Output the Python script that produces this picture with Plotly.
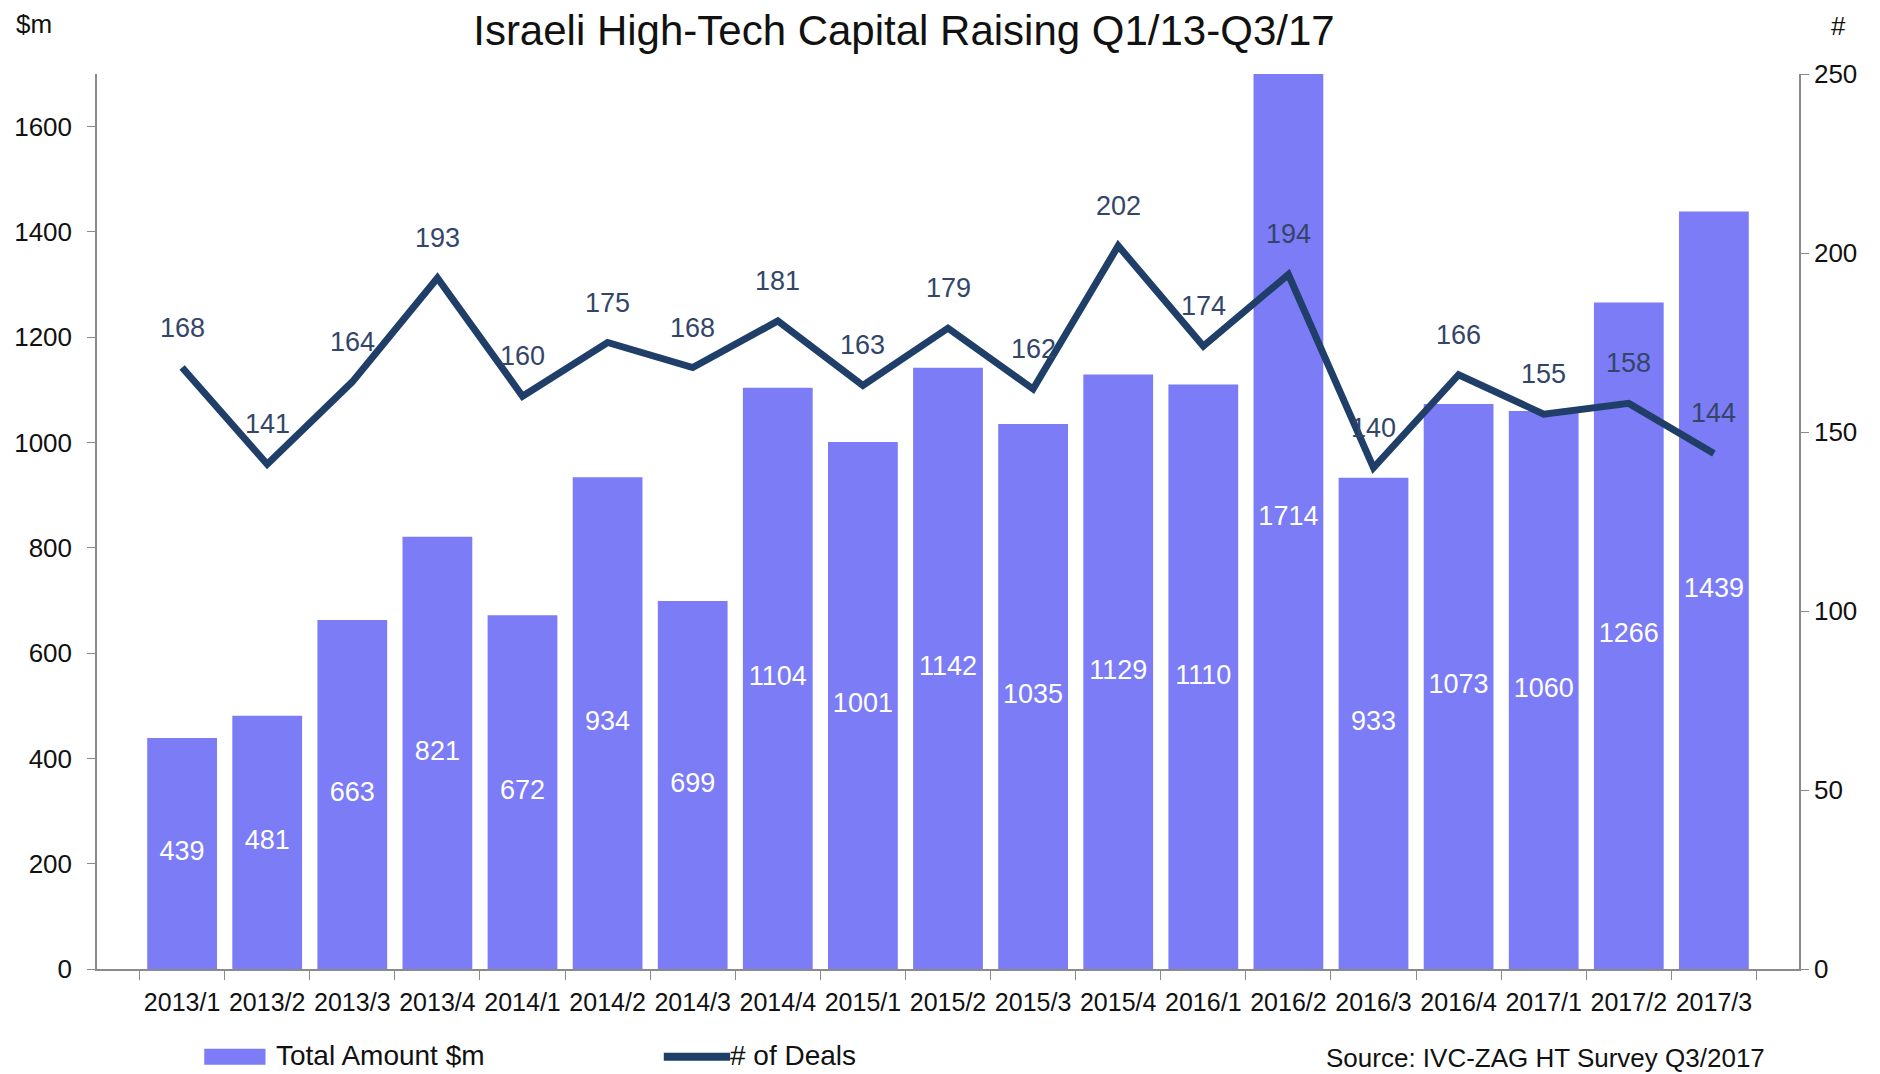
import plotly.graph_objects as go

quarters = ['2013/1', '2013/2', '2013/3', '2013/4', '2014/1', '2014/2', '2014/3', '2014/4',
            '2015/1', '2015/2', '2015/3', '2015/4', '2016/1', '2016/2', '2016/3', '2016/4',
            '2017/1', '2017/2', '2017/3']
total_amount = [439, 481, 663, 821, 672, 934, 699, 1104, 1001, 1142, 1035, 1129, 1110, 1714,
                933, 1073, 1060, 1266, 1439]
num_deals = [168, 141, 164, 193, 160, 175, 168, 181, 163, 179, 162, 202, 174, 194, 140, 166,
             155, 158, 144]

FONT = "Liberation Sans, Arial, sans-serif"
BAR_COLOR = '#7b7cf6'
LINE_COLOR = '#1f3f69'
AXIS_COLOR = '#8a8a8a'

fig = go.Figure()

fig.add_trace(go.Bar(
    x=quarters, y=total_amount, name='Total Amount $m',
    marker=dict(color=BAR_COLOR, line=dict(width=0)),
    showlegend=False,
))

# bar values sit in the middle of each bar
fig.add_trace(go.Scatter(
    x=quarters, y=[v / 2 for v in total_amount], mode='text',
    text=[str(v) for v in total_amount],
    textfont=dict(family=FONT, size=27, color='white'),
    showlegend=False, hoverinfo='skip', cliponaxis=False,
))

fig.add_trace(go.Scatter(
    x=quarters, y=num_deals, name='# of Deals', yaxis='y2',
    mode='lines', line=dict(color=LINE_COLOR, width=7),
    showlegend=False,
))

for q, d in zip(quarters, num_deals):
    fig.add_annotation(
        x=q, y=d, xref='x', yref='y2', text=str(d), showarrow=False,
        yshift=40, font=dict(family=FONT, size=27, color='#33466a'),
    )

# legend drawn by hand so the swatches match the original shapes
fig.add_shape(type='rect', xref='paper', yref='paper',
              x0=0.063, x1=0.099, y0=-0.089, y1=-0.107,
              fillcolor=BAR_COLOR, line=dict(width=0))
fig.add_annotation(x=0.104, y=-0.097, xref='paper', yref='paper', text='Total Amount $m',
                   showarrow=False, xanchor='left', yanchor='middle',
                   font=dict(family=FONT, size=28, color='#111'))
fig.add_shape(type='line', xref='paper', yref='paper',
              x0=0.333, x1=0.372, y0=-0.098, y1=-0.098,
              line=dict(color=LINE_COLOR, width=8))
fig.add_annotation(x=0.371, y=-0.097, xref='paper', yref='paper', text='# of Deals',
                   showarrow=False, xanchor='left', yanchor='middle',
                   font=dict(family=FONT, size=28, color='#111'))
fig.add_annotation(x=0.981, y=-0.099, xref='paper', yref='paper',
                   text='Source: IVC-ZAG HT Survey Q3/2017',
                   showarrow=False, xanchor='right', yanchor='middle',
                   font=dict(family=FONT, size=26, color='#111'))

# axis unit labels in the top corners
fig.add_annotation(x=-0.037, y=1.056, xref='paper', yref='paper', text='$m', showarrow=False,
                   xanchor='center', yanchor='middle', font=dict(family=FONT, size=26, color='#111'))
fig.add_annotation(x=1.023, y=1.054, xref='paper', yref='paper', text='#', showarrow=False,
                   xanchor='center', yanchor='middle', font=dict(family=FONT, size=26, color='#111'))

# page body keeps an 8px margin, so the figure is sized to fit inside the window
fig.update_layout(
    width=1872, height=1066,
    margin=dict(l=89, r=81, t=66, b=105),
    paper_bgcolor='white', plot_bgcolor='white',
    bargap=0.18,
    font=dict(family=FONT, size=26, color='#111'),
    title=dict(text='Israeli High-Tech Capital Raising Q1/13-Q3/17',
               x=0.4786, xanchor='center', y=0.979, yanchor='middle',
               font=dict(family=FONT, size=42, color='#111')),
    xaxis=dict(type='category', showline=True, linecolor=AXIS_COLOR, linewidth=1.5,
               ticks='outside', tickson='boundaries', ticklen=9, tickcolor=AXIS_COLOR,
               tickfont=dict(size=25), tickangle=0, ticklabelstandoff=10,
               showgrid=False, automargin=False),
    yaxis=dict(range=[0, 1700], dtick=200, showline=True, linecolor=AXIS_COLOR, linewidth=1.5,
               ticks='outside', ticklen=8, tickcolor=AXIS_COLOR, showgrid=False,
               zeroline=False, tickfont=dict(size=26), ticklabelstandoff=10, automargin=False),
    yaxis2=dict(range=[0, 250], dtick=50, overlaying='y', side='right', showline=True,
                linecolor=AXIS_COLOR, linewidth=1.5, ticks='outside', ticklen=8,
                tickcolor=AXIS_COLOR, showgrid=False, zeroline=False, tickfont=dict(size=26),
                automargin=False),
)

fig.write_html("out.html")
